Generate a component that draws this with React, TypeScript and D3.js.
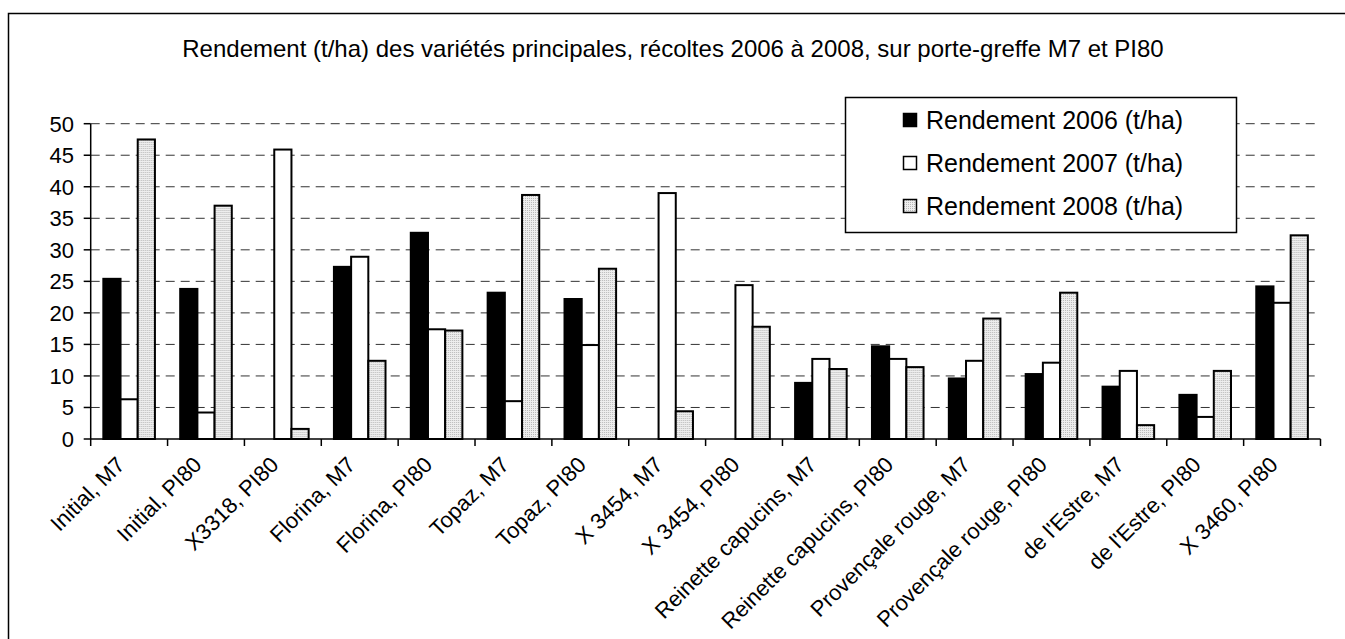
import React from "react";
import * as d3 from "d3";

const categories = [
  "Initial, M7",
  "Initial, PI80",
  "X3318, PI80",
  "Florina, M7",
  "Florina, PI80",
  "Topaz, M7",
  "Topaz, PI80",
  "X 3454, M7",
  "X 3454, PI80",
  "Reinette capucins, M7",
  "Reinette capucins, PI80",
  "Provençale rouge, M7",
  "Provençale rouge, PI80",
  "de l'Estre, M7",
  "de l'Estre, PI80",
  "X 3460, PI80",
];

const rendement2006 = [25.4, 23.8, 0, 27.3, 32.7, 23.2, 22.2, 0, 0, 8.9, 14.7, 9.6, 10.3, 8.3, 7.0, 24.2];
const rendement2007 = [6.3, 4.2, 45.9, 28.9, 17.4, 6.0, 14.9, 39.0, 24.4, 12.7, 12.7, 12.4, 12.1, 10.8, 3.5, 21.6];
const rendement2008 = [47.5, 37.0, 1.6, 12.4, 17.2, 38.7, 27.0, 4.4, 17.8, 11.1, 11.4, 19.1, 23.2, 2.2, 10.8, 32.3];

const seriesNames = ["Rendement 2006 (t/ha)", "Rendement 2007 (t/ha)", "Rendement 2008 (t/ha)"];
const yTicks = [0, 5, 10, 15, 20, 25, 30, 35, 40, 45, 50];
const title = "Rendement (t/ha) des variétés principales, récoltes 2006 à 2008, sur porte-greffe M7 et PI80";

const FONT = "'Liberation Sans', Arial, Helvetica, sans-serif";

export default function App() {
  const W = 1345;
  const H = 639;
  const left = 90.7;
  const right = 1320.5;
  const top = 123.7;
  const bottom = 439;

  const x = d3.scaleBand<string>().domain(categories).range([left, right]).padding(0);
  const xs = d3
    .scaleBand<number>()
    .domain([0, 1, 2])
    .range([0, x.bandwidth()])
    .paddingInner(0)
    .paddingOuter(0.735);
  const y = d3.scaleLinear().domain([0, 50]).range([bottom, top]);

  const series = [rendement2006, rendement2007, rendement2008];
  const fills = ["#000000", "#ffffff", "url(#dots)"];

  const boundaries = d3.range(categories.length + 1).map((i) => left + i * x.step());

  const legendX = 845.5;
  const legendY = 97.5;
  const legendW = 391;
  const legendH = 135;
  const legendRows = [120, 163, 206];

  return (
    <svg
      width={W}
      height={H}
      style={{ position: "absolute", left: 0, top: 0, background: "#fff", overflow: "hidden" }}
      fontFamily={FONT}
    >
      <defs>
        <pattern id="dots" width="2" height="2" patternUnits="userSpaceOnUse">
          <rect width="2" height="2" fill="#eeeeee" />
          <rect width="1" height="1" fill="#b8b8b8" />
        </pattern>
      </defs>

      {/* outer chart frame (right and bottom edges lie outside the picture) */}
      <path d={`M8.5,${H} L8.5,13.5 L${W},13.5`} fill="none" stroke="#000" strokeWidth={1.5} />

      <text x={673} y={57} textAnchor="middle" fontSize={24} fill="#000">
        {title}
      </text>

      {/* gridlines */}
      {yTicks
        .filter((t) => t > 0)
        .map((t) => (
          <line
            key={"g" + t}
            x1={left}
            x2={right}
            y1={y(t)}
            y2={y(t)}
            stroke="#333"
            strokeWidth={1}
            strokeDasharray="9,6"
          />
        ))}

      {/* bars */}
      {categories.map((c, i) => (
        <g key={c} transform={`translate(${x(c)},0)`}>
          {series.map((s, k) => {
            const v = s[i];
            if (v <= 0) return null;
            return (
              <rect
                key={k}
                x={xs(k)}
                y={y(v)}
                width={xs.bandwidth()}
                height={y(0) - y(v)}
                fill={fills[k]}
                stroke="#000"
                strokeWidth={2}
              />
            );
          })}
        </g>
      ))}

      {/* y axis */}
      <line x1={left} x2={left} y1={top} y2={bottom} stroke="#000" strokeWidth={1.5} />
      {yTicks.map((t) => (
        <g key={"t" + t}>
          <line x1={left - 7} x2={left} y1={y(t)} y2={y(t)} stroke="#000" strokeWidth={1.5} />
          <text x={74} y={y(t)} dy="0.36em" textAnchor="end" fontSize={22} fill="#000">
            {t}
          </text>
        </g>
      ))}

      {/* x axis */}
      <line x1={left} x2={right} y1={bottom} y2={bottom} stroke="#000" strokeWidth={1.5} />
      {boundaries.map((bx, i) => (
        <line key={"b" + i} x1={bx} x2={bx} y1={bottom} y2={bottom + 7} stroke="#000" strokeWidth={1.5} />
      ))}
      {categories.map((c) => {
        const cx = (x(c) as number) + x.bandwidth() / 2 - 3;
        const cy = 466;
        return (
          <text
            key={"l" + c}
            transform={`translate(${cx},${cy}) rotate(-45)`}
            textAnchor="end"
            fontSize={22}
            fill="#000"
          >
            {c}
          </text>
        );
      })}

      {/* legend */}
      <rect x={legendX} y={legendY} width={legendW} height={legendH} fill="#fff" stroke="#000" strokeWidth={1.5} />
      {seriesNames.map((n, k) => (
        <g key={n}>
          <rect
            x={903.5}
            y={legendRows[k] - 6.5}
            width={13}
            height={13}
            fill={fills[k]}
            stroke="#000"
            strokeWidth={1.5}
          />
          <text x={926} y={legendRows[k]} dy="0.36em" fontSize={25} fill="#000">
            {n}
          </text>
        </g>
      ))}
    </svg>
  );
}
